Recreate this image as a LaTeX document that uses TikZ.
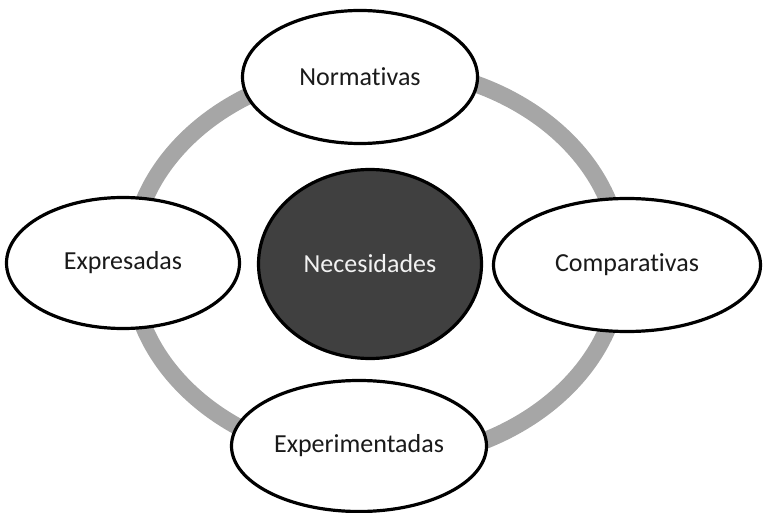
\documentclass[tikz,border=0pt]{standalone}
\usepackage{fontspec}
\setmainfont{Carlito}[Ligatures=NoCommon, RawFeature={-liga}]
\usetikzlibrary{shapes.geometric}

\definecolor{ringgray}{HTML}{A6A6A6}
\definecolor{coredark}{HTML}{404040}
\definecolor{coretext}{HTML}{F2F2F2}
\definecolor{labeltext}{HTML}{1A1A1A}

\begin{document}
\begin{tikzpicture}[x=1pt,y=-1pt,
    bubble/.style={ellipse, draw=black, line width=3.2pt, fill=white,
        inner sep=0pt, text=labeltext, font=\fontsize{26}{30}\selectfont},
    core/.style={bubble, fill=coredark, text=coretext}]

% Fix the page to the reference size.
\useasboundingbox (0,0) rectangle (763,513);

% Grey ring behind all the bubbles.
\coordinate (ringc) at (376,264);
\draw[ringgray, line width=17pt] (ringc) ellipse [x radius=245, y radius=197];

% Centre bubble.
\node[core, minimum width=223pt, minimum height=189pt]
    (necesidades) at (370,264) {Necesidades};

% Outer bubbles on the ring.
\node[bubble, minimum width=235pt, minimum height=133pt]
    (normativas) at (360,77) {Normativas};
\node[bubble, minimum width=233pt, minimum height=131pt]
    (expresadas) at (123,263) {Expresadas};
\node[bubble, minimum width=267pt, minimum height=133pt]
    (comparativas) at (627,265) {Comparativas};
\node[bubble, minimum width=255pt, minimum height=131pt]
    (experimentadas) at (359,446) {Experimentadas};

\end{tikzpicture}
\end{document}
